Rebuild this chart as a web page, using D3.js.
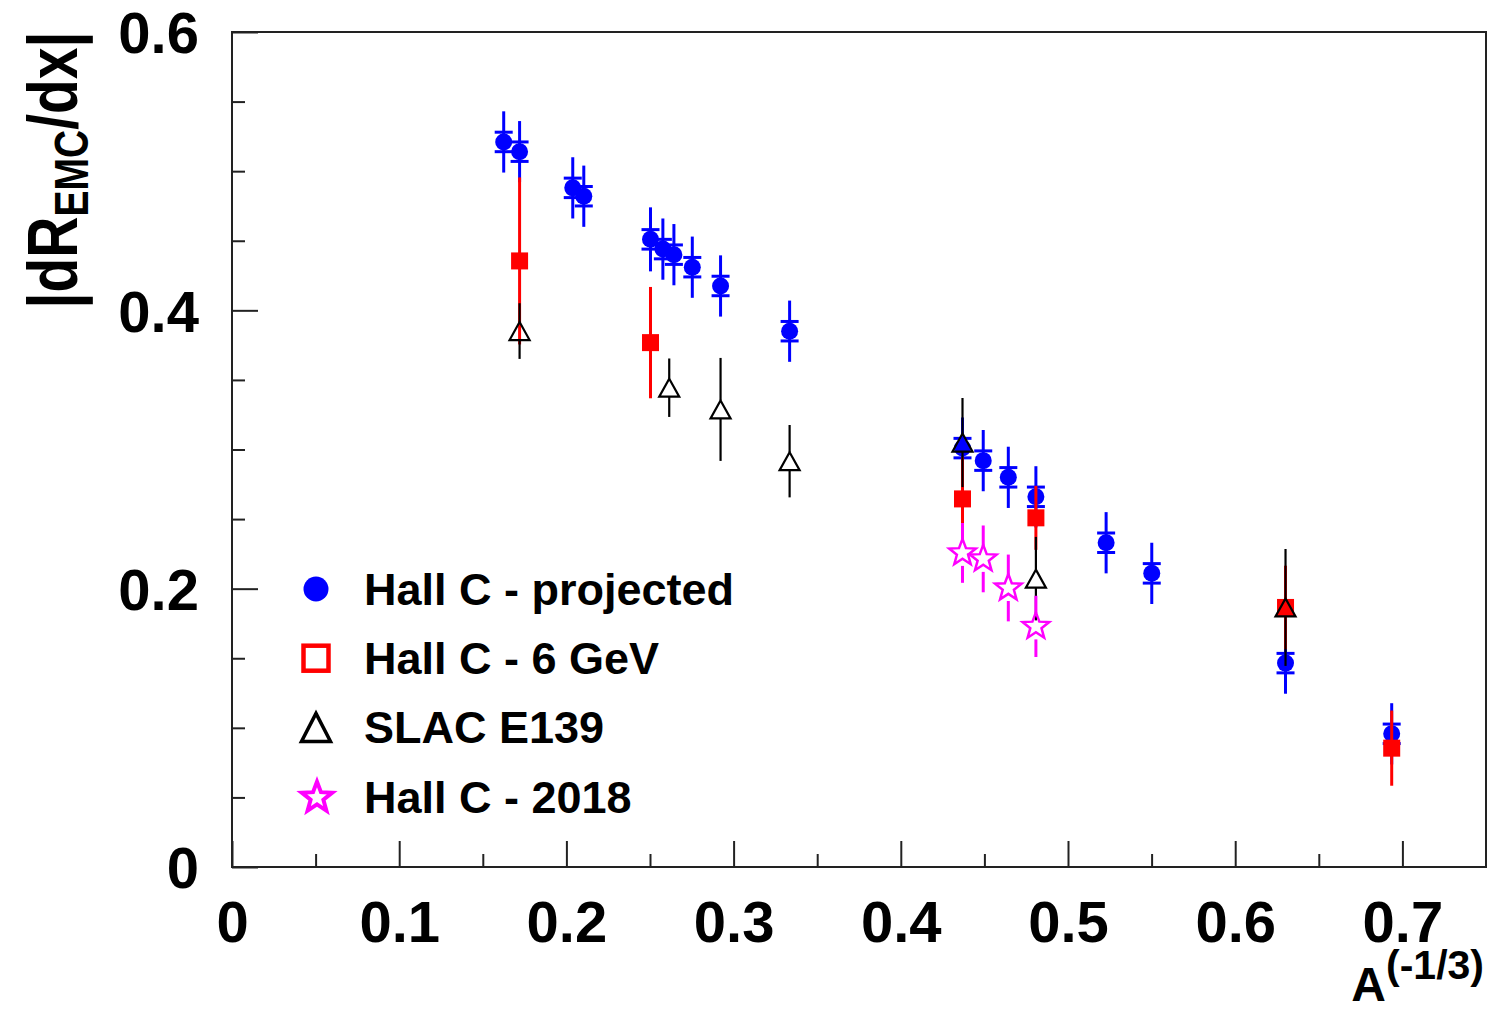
<!DOCTYPE html>
<html>
<head>
<meta charset="utf-8">
<script src="https://cdn.jsdelivr.net/npm/d3@7"></script>
<style>
    body { margin: 0; background: #fff; }
    svg { display: block; font-family: "Liberation Sans", Arial, sans-serif; font-weight: bold; }
</style>
</head>
<body>
<div id="chart"></div>
<script>
"use strict"

// -------------------------------------
// Data
// -------------------------------------

// Hall C - projected
var projX = [0.1625, 0.172, 0.2038, 0.2104, 0.2503, 0.2577, 0.2643, 0.2753, 0.2922, 0.3335, 0.4369, 0.4493, 0.4643, 0.4808, 0.5228, 0.5501, 0.6301, 0.6936]
var projY = [0.521, 0.514, 0.488, 0.482, 0.451, 0.444, 0.440, 0.431, 0.4175, 0.385, 0.301, 0.292, 0.280, 0.266, 0.233, 0.211, 0.1465, 0.0957]
var projErr = [0.022, 0.022, 0.022, 0.022, 0.023, 0.022, 0.022, 0.022, 0.022, 0.022, 0.022, 0.022, 0.022, 0.022, 0.022, 0.022, 0.022, 0.022]
var projSys = [0.007, 0.007, 0.007, 0.007, 0.007, 0.007, 0.007, 0.007, 0.007, 0.007, 0.007, 0.007, 0.007, 0.007, 0.007, 0.007, 0.007, 0.007]

// Hall C - 6 GeV
var sixX = [0.172, 0.2503, 0.4369, 0.4808, 0.6301, 0.6936]
var sixY = [0.4355, 0.3768, 0.2645, 0.2509, 0.1865, 0.0854]
var sixErr = [0.06, 0.04, 0.03, 0.023, 0.03, 0.027]

// SLAC E139
var slacX = [0.172, 0.2615, 0.2922, 0.3335, 0.4369, 0.4808, 0.6301]
var slacY = [0.3851, 0.3444, 0.3288, 0.2916, 0.305, 0.2072, 0.1865]
var slacErr = [0.02, 0.021, 0.037, 0.026, 0.032, 0.03, 0.042]

// Hall C - 2018
var newX = [0.4369, 0.4493, 0.4643, 0.4808]
var newY = [0.2257, 0.2214, 0.2005, 0.1729]
var newErr = [0.0215, 0.024, 0.024, 0.022]

var xTicks = [0, 0.1, 0.2, 0.3, 0.4, 0.5, 0.6, 0.7]
var xMinorTicks = [0.05, 0.15, 0.25, 0.35, 0.45, 0.55, 0.65]
var yTicks = [0, 0.2, 0.4, 0.6]
var yMinorTicks = [0.05, 0.1, 0.15, 0.25, 0.3, 0.35, 0.45, 0.5, 0.55]

var legendLabels = ['Hall C - projected', 'Hall C - 6 GeV', 'SLAC E139', 'Hall C - 2018']

// -------------------------------------
// Frame and scales
// -------------------------------------

var W = 1506, H = 1011
var margin = { top: 32, right: 20, bottom: 144, left: 232 }
var width = W - margin.left - margin.right
var height = H - margin.top - margin.bottom

var svg = d3.select('#chart').append('svg')
    .attr('width', W)
    .attr('height', H)

var g = svg.append('g')
    .attr('transform', `translate(${margin.left},${margin.top})`)

var x = d3.scaleLinear().domain([0, 0.75]).range([0, width])
var y = d3.scaleLinear().domain([0, 0.6]).range([height, 0])

var fmt = d => d === 0 ? '0' : d3.format('.1f')(d)
var axisColor = '#222'

// x axis: minor + major ticks pointing inward
g.append('g')
    .attr('class', 'axis')
    .attr('transform', `translate(0,${height})`)
    .call(d3.axisBottom(x).tickValues(xMinorTicks).tickSize(-13).tickSizeOuter(0).tickFormat(''))

var xAx = g.append('g')
    .attr('class', 'axis')
    .attr('transform', `translate(0,${height})`)
    .call(d3.axisBottom(x).tickValues(xTicks).tickSize(-26).tickSizeOuter(0).tickFormat(fmt))

xAx.selectAll('text')
    .attr('y', 75)
    .attr('dy', null)

// y axis
g.append('g')
    .attr('class', 'axis')
    .call(d3.axisLeft(y).tickValues(yMinorTicks).tickSize(-13).tickSizeOuter(0).tickFormat(''))

var yAx = g.append('g')
    .attr('class', 'axis')
    .call(d3.axisLeft(y).tickValues(yTicks).tickSize(-26).tickSizeOuter(0).tickFormat(fmt))

yAx.selectAll('text')
    .attr('x', -33)
    .attr('dy', '0.36em')

g.selectAll('.axis .domain').remove()
g.selectAll('.axis line').attr('stroke', axisColor).attr('stroke-width', 2)
g.selectAll('.axis text')
    .attr('fill', '#000')
    .style('font-size', '58px')
    .style('font-family', '"Liberation Sans", Arial, sans-serif')
    .style('font-weight', 'bold')

// frame
g.append('rect')
    .attr('width', width)
    .attr('height', height)
    .attr('fill', 'none')
    .attr('stroke', axisColor)
    .attr('stroke-width', 2)

// axis titles
var xTitle = svg.append('text')
    .attr('x', 1484)
    .attr('y', 1001)
    .attr('text-anchor', 'end')
    .style('font-size', '48px')
xTitle.append('tspan').text('A')
xTitle.append('tspan').attr('dy', -22).style('font-size', '41px').text('(-1/3)')

// title glyphs are a bit taller than wide in the original
var yTitle = svg.append('text')
    .attr('transform', 'translate(77,170) rotate(-90) scale(1,1.25)')
    .attr('text-anchor', 'middle')
    .style('font-size', '57px')
yTitle.append('tspan').text('|dR')
yTitle.append('tspan').attr('dy', 8.5).style('font-size', '39px').text('EMC')
yTitle.append('tspan').attr('dy', -8.5).text('/dx|')

// -------------------------------------
// Markers
// -------------------------------------

function trianglePath(w, h) {
    return `M0,${-h / 2}L${w / 2},${h / 2}L${-w / 2},${h / 2}Z`
}

function starPath(r) {
    var pts = []
    for (var k = 0; k < 10; k++) {
        var a = -Math.PI / 2 + k * Math.PI / 5
        var rr = k % 2 ? r * 0.42 : r
        pts.push([rr * Math.cos(a), rr * Math.sin(a)])
    }
    return d3.line()(pts) + 'Z'
}

function rows(xs, ys, errs) {
    return xs.map((v, i) => ({ x: v, y: ys[i], e: errs[i] }))
}

// vertical error bars, with a gap where the marker sits (ROOT style)
function errorBars(data, gap, color, lw) {
    var grp = g.append('g')
    grp.selectAll('.up')
        .data(data)
        .enter()
        .append('line')
        .attr('x1', d => x(d.x))
        .attr('x2', d => x(d.x))
        .attr('y1', d => y(d.y + d.e))
        .attr('y2', d => Math.max(y(d.y + d.e), y(d.y) - gap))
        .attr('stroke', color)
        .attr('stroke-width', lw)
    grp.selectAll('.down')
        .data(data)
        .enter()
        .append('line')
        .attr('x1', d => x(d.x))
        .attr('x2', d => x(d.x))
        .attr('y1', d => Math.min(y(d.y - d.e), y(d.y) + gap))
        .attr('y2', d => y(d.y - d.e))
        .attr('stroke', color)
        .attr('stroke-width', lw)
    return grp
}

// Hall C - projected
var projData = rows(projX, projY, projErr)
projData.forEach((d, i) => { d.s = projSys[i] })
errorBars(projData, 0, '#0000ff', 3)

var caps = g.append('g')
;[1, -1].forEach(function (sign) {
    caps.selectAll('.cap' + sign)
        .data(projData)
        .enter()
        .append('line')
        .attr('x1', d => x(d.x) - 9)
        .attr('x2', d => x(d.x) + 9)
        .attr('y1', d => y(d.y + sign * d.s))
        .attr('y2', d => y(d.y + sign * d.s))
        .attr('stroke', '#0000ff')
        .attr('stroke-width', 3)
})

g.append('g').selectAll('circle')
    .data(projData)
    .enter()
    .append('circle')
    .attr('cx', d => x(d.x))
    .attr('cy', d => y(d.y))
    .attr('r', 8.5)
    .attr('fill', '#0000ff')

// Hall C - 6 GeV
var sixData = rows(sixX, sixY, sixErr)
errorBars(sixData, 0, '#ff0000', 3)
g.append('g').selectAll('rect')
    .data(sixData)
    .enter()
    .append('rect')
    .attr('x', d => x(d.x) - 8.5)
    .attr('y', d => y(d.y) - 8.5)
    .attr('width', 17)
    .attr('height', 17)
    .attr('fill', '#ff0000')

// SLAC E139
var slacData = rows(slacX, slacY, slacErr)
errorBars(slacData, 9, '#000', 2.2)
g.append('g').selectAll('path')
    .data(slacData)
    .enter()
    .append('path')
    .attr('d', trianglePath(20, 18))
    .attr('transform', d => `translate(${x(d.x)},${y(d.y)})`)
    .attr('fill', 'none')
    .attr('stroke', '#000')
    .attr('stroke-width', 2.2)

// Hall C - 2018
var newData = rows(newX, newY, newErr)
errorBars(newData, 13, '#ff00ff', 3)
g.append('g').selectAll('path')
    .data(newData)
    .enter()
    .append('path')
    .attr('d', starPath(14))
    .attr('transform', d => `translate(${x(d.x)},${y(d.y)})`)
    .attr('fill', 'none')
    .attr('stroke', '#ff00ff')
    .attr('stroke-width', 2.5)

// -------------------------------------
// Legend
// -------------------------------------

var legend = svg.append('g').attr('transform', 'translate(316,589)')
var rowStep = 69.2

legend.selectAll('text')
    .data(legendLabels)
    .enter()
    .append('text')
    .attr('x', 48)
    .attr('y', (d, i) => i * rowStep + 16)
    .style('font-size', '45px')
    .text(d => d)

legend.append('circle')
    .attr('r', 12.5)
    .attr('fill', '#0000ff')

legend.append('rect')
    .attr('x', -12.5)
    .attr('y', rowStep - 12.5)
    .attr('width', 25)
    .attr('height', 25)
    .attr('fill', 'none')
    .attr('stroke', '#ff0000')
    .attr('stroke-width', 4.5)

legend.append('path')
    .attr('d', trianglePath(29, 28))
    .attr('transform', `translate(0,${rowStep * 2})`)
    .attr('fill', 'none')
    .attr('stroke', '#000')
    .attr('stroke-width', 3.5)

legend.append('path')
    .attr('d', starPath(16))
    .attr('transform', `translate(1,${rowStep * 3 + 1})`)
    .attr('fill', 'none')
    .attr('stroke', '#ff00ff')
    .attr('stroke-width', 4)
</script>
</body>
</html>
